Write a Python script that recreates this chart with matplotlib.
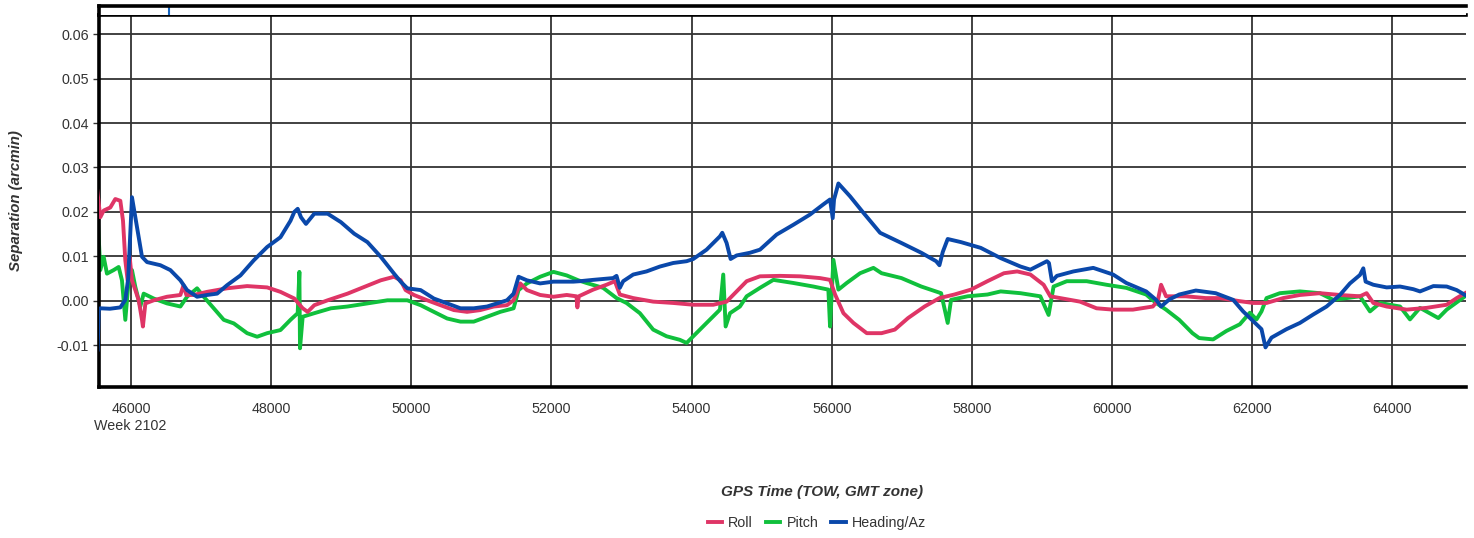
import numpy as np
import matplotlib.pyplot as plt

plt.rcParams['font.family'] = ['Liberation Sans', 'DejaVu Sans']

# GPS time of week (s) and separation (arcmin)
heading_t = [45524, 45540, 45562, 45700, 45848, 45919, 45960, 46014, 46086, 46157, 46229, 46419,
             46562, 46705, 46800, 46943, 47086, 47229, 47371, 47562, 47752, 47943,
             48133, 48276, 48331, 48379, 48426, 48497, 48616, 48806, 48995, 49185,
             49374, 49564, 49754, 49848, 49943, 50133, 50322, 50512, 50702, 50891,
             51081, 51365, 51460, 51531, 51650, 51839, 52029, 52313, 52405, 52595,
             52881, 52929, 52976, 53024, 53167, 53357, 53548, 53738, 53929, 54024,
             54214, 54405, 54438, 54500, 54557, 54643, 54833, 54976, 55214, 55452,
             55690, 55881, 55976, 56014, 56033, 56095, 56262, 56452, 56690, 56995,
             57278, 57490, 57537, 57585, 57655, 57844, 58127, 58411, 58694, 58835,
             59071, 59100, 59142, 59213, 59449, 59732, 60015, 60204, 60487, 60629,
             60700, 60818, 60959, 61196, 61479, 61729, 61871, 62014, 62133, 62190,
             62276, 62490, 62681, 62871, 63062, 63252, 63395, 63538, 63586, 63619,
             63729, 63919, 64110, 64300, 64395, 64586, 64776, 64919, 65038]
heading_v = [-0.0110, -0.0020, -0.0017, -0.0018, -0.0015, 0.0002, 0.0050, 0.0233, 0.0166, 0.0099, 0.0087, 0.0080,
             0.0069, 0.0046, 0.0024, 0.0009, 0.0013, 0.0016, 0.0035, 0.0057, 0.0091, 0.0121,
             0.0143, 0.0180, 0.0200, 0.0207, 0.0188, 0.0173, 0.0196, 0.0196, 0.0177, 0.0151,
             0.0132, 0.0099, 0.0061, 0.0043, 0.0028, 0.0024, 0.0005, -0.0006, -0.0017, -0.0017,
             -0.0013, 0.0001, 0.0016, 0.0054, 0.0046, 0.0039, 0.0043, 0.0043, 0.0044, 0.0047,
             0.0051, 0.0056, 0.0029, 0.0044, 0.0059, 0.0066, 0.0077, 0.0085, 0.0089, 0.0094,
             0.0115, 0.0145, 0.0153, 0.0130, 0.0094, 0.0102, 0.0108, 0.0115, 0.0149, 0.0171,
             0.0194, 0.0217, 0.0228, 0.0186, 0.0228, 0.0264, 0.0235, 0.0198, 0.0153, 0.0130,
             0.0108, 0.0089, 0.0080, 0.0110, 0.0139, 0.0132, 0.0119, 0.0096, 0.0077, 0.0070,
             0.0089, 0.0085, 0.0044, 0.0056, 0.0066, 0.0074, 0.0059, 0.0040, 0.0021, 0.0002,
             -0.0013, 0.0003, 0.0014, 0.0023, 0.0017, 0.0002, -0.0024, -0.0046, -0.0064, -0.0105,
             -0.0083, -0.0064, -0.0050, -0.0031, -0.0013, 0.0013, 0.0039, 0.0058, 0.0073, 0.0043,
             0.0036, 0.0030, 0.0032, 0.0026, 0.0021, 0.0033, 0.0032, 0.0024, 0.0013]

roll_t = [45514, 45562, 45610, 45705, 45776, 45848, 45886, 45919, 45952, 45981, 46014, 46062,
          46110, 46157, 46170, 46205, 46324, 46514, 46705, 46750, 46790, 46895, 47086, 47371,
          47657, 47943, 48133, 48331, 48450, 48521, 48616, 48806, 49090, 49327, 49564,
          49754, 49848, 49919, 50038, 50228, 50417, 50607, 50796, 50986, 51176, 51365,
          51460, 51555, 51650, 51839, 52029, 52218, 52357, 52370, 52390, 52595, 52786, 52905,
          52976, 53167, 53452, 53738, 54024, 54310, 54500, 54643, 54786, 54976, 55262,
          55548, 55833, 55976, 56048, 56167, 56310, 56500, 56711, 56900, 57089, 57325,
          57537, 57750, 57986, 58222, 58458, 58647, 58835, 59024, 59119, 59260, 59543,
          59779, 60015, 60298, 60582, 60653, 60700, 60771, 61054, 61337, 61538, 61824,
          62014, 62205, 62443, 62681, 62967, 63252, 63538, 63633, 63729, 63919, 64205,
          64491, 64776, 64919, 65038]
roll_v = [0.0255, 0.0188, 0.0203, 0.0210, 0.0229, 0.0225, 0.0180, 0.0091, 0.0046, 0.0099, 0.0046, 0.0024,
          0.0001, -0.0043, -0.0058, -0.0006, 0.0001, 0.0009, 0.0013, 0.0035, 0.0013, 0.0013, 0.0020, 0.0028,
          0.0033, 0.0030, 0.0020, 0.0005, -0.0017, -0.0025, -0.0010, 0.0001, 0.0016, 0.0031, 0.0046,
          0.0054, 0.0046, 0.0024, 0.0013, 0.0001, -0.0010, -0.0021, -0.0025, -0.0021, -0.0013, -0.0010,
          0.0001, 0.0039, 0.0024, 0.0013, 0.0009, 0.0013, 0.0010, -0.0015, 0.0010, 0.0025, 0.0036, 0.0044,
          0.0014, 0.0006, -0.0002, -0.0005, -0.0009, -0.0009, -0.0002, 0.0021, 0.0044, 0.0055, 0.0056,
          0.0055, 0.0051, 0.0047, 0.0014, -0.0028, -0.0050, -0.0073, -0.0073, -0.0065, -0.0039, -0.0013,
          0.0006, 0.0014, 0.0025, 0.0044, 0.0062, 0.0066, 0.0059, 0.0036, 0.0010, 0.0006, -0.0002,
          -0.0017, -0.0020, -0.0020, -0.0013, 0.0000, 0.0036, 0.0010, 0.0010, 0.0006, 0.0006, -0.0001,
          -0.0005, -0.0005, 0.0006, 0.0013, 0.0017, 0.0013, 0.0010, 0.0017, -0.0005, -0.0013, -0.0020,
          -0.0016, -0.0009, 0.0006, 0.0017]

pitch_t = [45514, 45530, 45562, 45610, 45657, 45752, 45824, 45871, 45919, 45967, 46014, 46062,
           46133, 46181, 46324, 46514, 46705, 46800, 46943, 47038, 47181, 47324, 47467,
           47657, 47800, 47943, 48133, 48276, 48379, 48403, 48412, 48450, 48616, 48853,
           49090, 49374, 49659, 49943, 50133, 50322, 50512, 50702, 50891, 51081, 51270,
           51460, 51531, 51650, 51839, 52029, 52218, 52384, 52500, 52738, 52929, 53071,
           53262, 53452, 53643, 53833, 53929, 54024, 54214, 54405, 54452, 54486, 54548,
           54690, 54786, 54976, 55167, 55452, 55738, 55952, 55976, 56024, 56095, 56214,
           56405, 56595, 56711, 56995, 57278, 57561, 57655, 57703, 57939, 58222, 58411,
           58694, 58977, 59095, 59166, 59355, 59638, 59920, 60204, 60487, 60629, 60771,
           60959, 61148, 61243, 61443, 61633, 61824, 61967, 62062, 62133, 62205, 62395,
           62681, 62967, 63157, 63348, 63538, 63681, 63824, 64110, 64252, 64395, 64657,
           64776, 65038]
pitch_v = [0.0151, 0.0173, 0.0069, 0.0099, 0.0061, 0.0069, 0.0076, 0.0046, -0.0043, 0.0046, 0.0069, 0.0031,
           -0.0013, 0.0016, 0.0005, -0.0006, -0.0013, 0.0009, 0.0028, 0.0009, -0.0017, -0.0043, -0.0051,
           -0.0073, -0.0081, -0.0073, -0.0066, -0.0043, -0.0028, 0.0065, -0.0107, -0.0036, -0.0028, -0.0017,
           -0.0013, -0.0006, 0.0001, 0.0001, -0.0010, -0.0025, -0.0040, -0.0047, -0.0047, -0.0036, -0.0025,
           -0.0017, 0.0024, 0.0039, 0.0054, 0.0065, 0.0057, 0.0046, 0.0040, 0.0029, 0.0006, -0.0005,
           -0.0028, -0.0065, -0.0080, -0.0088, -0.0095, -0.0080, -0.0050, -0.0020, 0.0059, -0.0058, -0.0028,
           -0.0013, 0.0010, 0.0029, 0.0047, 0.0040, 0.0032, 0.0025, -0.0058, 0.0092, 0.0025, 0.0040,
           0.0062, 0.0074, 0.0062, 0.0051, 0.0032, 0.0017, -0.0050, 0.0002, 0.0010, 0.0014, 0.0021,
           0.0017, 0.0010, -0.0032, 0.0032, 0.0044, 0.0044, 0.0036, 0.0029, 0.0014, -0.0005, -0.0020,
           -0.0043, -0.0073, -0.0084, -0.0087, -0.0068, -0.0053, -0.0027, -0.0042, -0.0024, 0.0006, 0.0017,
           0.0021, 0.0017, 0.0002, 0.0006, 0.0010, -0.0024, -0.0005, -0.0013, -0.0042, -0.0016, -0.0039,
           -0.0020, 0.0010]

xticks = [46000, 48000, 50000, 52000, 54000, 56000, 58000, 60000, 62000, 64000]
yticks = [-0.01, 0.00, 0.01, 0.02, 0.03, 0.04, 0.05, 0.06]
event_t = [46536]

c_roll = '#DF3566'
c_pitch = '#10C03C'
c_head = '#0A48AA'
grid_c = '#333333'
txt_c = '#333333'
fs = 10.3

fig = plt.figure(figsize=(14.74, 5.38), dpi=100)
ax = fig.add_axes([0.067, 0.280, 0.9275, 0.6927])
strip = fig.add_axes([0.067, 0.9727, 0.9275, 0.0167], sharex=ax)

ax.plot(roll_t, roll_v, color=c_roll, lw=2.8, label='Roll', zorder=3)
ax.plot(pitch_t, pitch_v, color=c_pitch, lw=2.8, label='Pitch', zorder=2)
ax.plot(heading_t, heading_v, color=c_head, lw=2.8, label='Heading/Az', zorder=4)

ax.set_xlim(45540, 65050)
ax.set_ylim(-0.0195, 0.0644)
ax.set_xticks(xticks)
ax.set_yticks(yticks)
ax.set_yticklabels(['%.2f' % v for v in yticks])
ax.grid(True, color=grid_c, lw=1.3)
ax.tick_params(axis='y', length=4, width=1, colors=grid_c, labelcolor=txt_c, labelsize=fs, pad=3)
ax.tick_params(axis='x', length=0, labelcolor=txt_c, labelsize=fs, pad=10.5)
for s in ['left', 'bottom', 'top']:
    ax.spines[s].set_linewidth(2.6)
    ax.spines[s].set_color('black')
ax.spines['right'].set_visible(False)

ax.set_ylabel('Separation (arcmin)', fontsize=10.8, fontweight='bold', fontstyle='italic',
              color=txt_c, labelpad=24)

# event strip on top
for t in event_t:
    strip.axvline(t, color='#1565C0', lw=1.5)
strip.set_ylim(0, 1)
strip.set_yticks([])
strip.tick_params(axis='x', length=0, labelbottom=False)
strip.spines['top'].set_linewidth(2.6)
strip.spines['left'].set_linewidth(2.6)
strip.spines['right'].set_visible(False)
strip.spines['bottom'].set_visible(False)

fig.text(94 / 1474, 1 - 426 / 538, 'Week 2102', fontsize=fs, color=txt_c, ha='left', va='center')
fig.text(822 / 1474, 1 - 492 / 538, 'GPS Time (TOW, GMT zone)', fontsize=11, fontweight='bold',
         fontstyle='italic', color=txt_c, ha='center', va='center')

handles, labels = ax.get_legend_handles_labels()
fig.legend(handles, labels, loc='center', bbox_to_anchor=(817 / 1474, 1 - 523 / 538), ncol=3,
           frameon=False, fontsize=fs, handlelength=1.0, columnspacing=0.9, handletextpad=0.45,
           labelcolor=txt_c)

fig.savefig('out.png', dpi=100)
